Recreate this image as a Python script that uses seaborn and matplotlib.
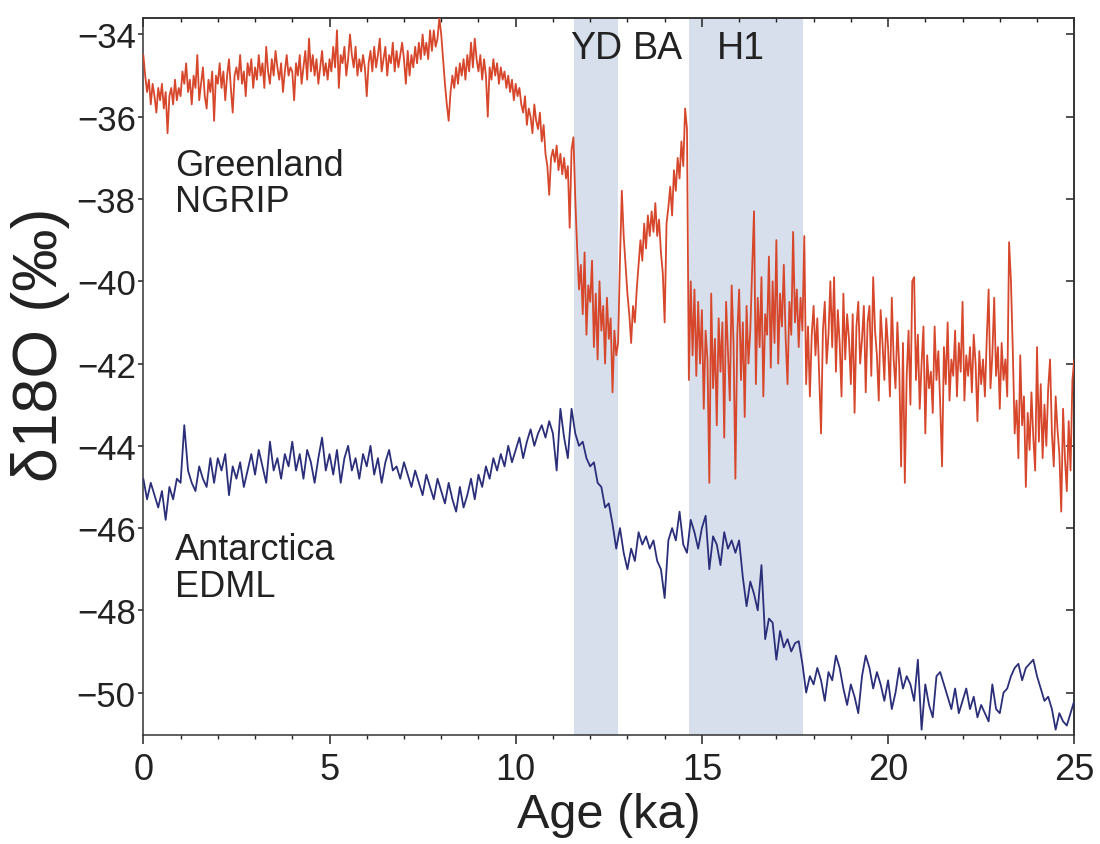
import matplotlib
matplotlib.use("Agg")
import matplotlib.pyplot as plt
from matplotlib.ticker import MultipleLocator, NullFormatter
import pandas as pd
import seaborn as sns

# --- Greenland NGRIP d18O, 50-yr steps (one row per ka, 0-25 ka) ---
NGRIP_STEP = 0.05
ngrip_rows = [
    [-34.5, -35.0, -35.4, -35.1, -35.7, -35.2, -35.5, -35.9, -35.3, -35.6, -35.2, -35.8, -35.4, -36.4, -35.5, -35.3, -35.7, -35.1, -35.6, -35.3],
    [-35.5, -34.9, -35.2, -34.7, -35.4, -35.1, -35.7, -35.0, -35.3, -34.5, -35.6, -35.2, -34.8, -35.5, -35.8, -35.1, -35.4, -34.9, -36.1, -35.0],
    [-35.2, -34.7, -35.3, -34.9, -35.6, -35.0, -34.6, -35.3, -35.9, -35.0, -34.8, -35.1, -34.5, -35.2, -34.9, -35.5, -34.7, -35.0, -34.6, -35.3],
    [-34.8, -35.1, -34.5, -35.0, -34.7, -35.3, -34.3, -34.9, -35.2, -34.6, -35.0, -34.4, -34.8, -35.1, -34.7, -35.4, -34.9, -34.5, -35.0, -34.8],
    [-34.9, -35.6, -34.7, -35.0, -34.5, -35.2, -34.8, -34.4, -35.1, -34.1, -34.9, -34.5, -35.0, -34.6, -35.2, -34.8, -34.4, -35.0, -34.7, -35.1],
    [-34.6, -34.9, -34.3, -34.8, -33.9, -35.3, -34.5, -34.7, -34.3, -35.0, -34.6, -34.0, -34.5, -34.8, -34.3, -35.0, -34.6, -34.9, -34.5, -34.8],
    [-35.5, -34.7, -34.4, -34.9, -34.3, -34.8, -34.5, -34.1, -34.9, -34.6, -34.3, -35.0, -34.5, -34.7, -34.2, -34.9, -34.4, -34.8, -34.5, -34.2],
    [-34.6, -35.2, -34.4, -35.0, -34.5, -34.8, -34.3, -34.7, -34.2, -34.6, -34.0, -34.5, -34.2, -34.6, -33.9, -34.4, -33.9, -34.3, -34.1, -33.6],
    [-34.0, -34.6, -35.2, -35.7, -36.1, -35.4, -35.0, -35.3, -34.8, -35.2, -34.7, -35.0, -34.6, -35.1, -34.5, -34.9, -34.2, -34.8, -34.1, -34.6],
    [-34.9, -34.5, -35.1, -34.6, -35.0, -36.0, -34.8, -35.1, -34.6, -35.0, -34.7, -35.2, -34.8, -35.1, -34.9, -35.3, -35.0, -35.4, -35.1, -35.6],
    [-35.2, -35.5, -35.3, -35.7, -35.9, -35.5, -36.2, -35.8, -36.0, -36.4, -35.7, -36.1, -36.3, -35.9, -36.6, -36.2, -36.9, -37.2, -37.9, -37.0],
    [-36.8, -37.1, -36.7, -37.3, -36.9, -37.4, -37.0, -37.5, -37.2, -38.7, -36.8, -36.5, -38.0, -39.2, -40.2, -39.6, -40.8, -39.3, -41.3, -40.1],
    [-40.5, -39.5, -41.6, -40.3, -41.9, -40.0, -41.2, -40.6, -42.0, -40.4, -41.4, -40.9, -42.7, -41.2, -41.8, -41.5, -39.5, -37.8, -38.9, -39.6],
    [-40.3, -40.8, -41.5, -40.6, -41.0, -40.2, -39.6, -39.0, -39.5, -38.6, -39.2, -38.4, -38.9, -38.3, -38.8, -38.1, -38.9, -38.5, -39.3, -39.8],
    [-41.0, -38.6, -38.2, -37.7, -38.4, -37.3, -37.8, -37.0, -37.5, -36.6, -37.2, -35.8, -36.3, -42.4, -40.0, -41.8, -40.2, -42.3, -40.5, -42.0],
    [-40.7, -43.1, -41.2, -41.9, -44.9, -40.3, -42.6, -41.4, -43.5, -40.9, -42.2, -41.0, -43.8, -40.5, -41.7, -42.9, -40.1, -41.5, -44.8, -41.3],
    [-40.2, -42.4, -41.0, -43.3, -40.6, -42.0, -41.2, -39.7, -38.3, -42.5, -40.4, -41.6, -39.9, -42.8, -40.8, -41.3, -39.4, -42.1, -40.0, -41.5],
    [-39.0, -42.0, -40.3, -41.1, -39.6, -41.4, -42.5, -40.5, -41.3, -38.8, -41.0, -40.2, -41.6, -40.4, -41.2, -38.9, -42.5, -41.1, -42.8, -41.3],
    [-40.6, -41.8, -40.9, -42.3, -43.7, -41.2, -40.5, -42.0, -41.3, -40.0, -41.6, -39.9, -42.2, -40.7, -41.5, -42.8, -40.3, -41.9, -40.8, -41.4],
    [-42.5, -40.8, -43.2, -41.1, -40.5, -42.0, -41.4, -40.6, -42.7, -41.0, -40.6, -42.3, -39.9, -41.2, -41.8, -42.9, -40.7, -41.5, -42.4, -40.9],
    [-41.6, -42.8, -40.4, -41.9, -42.6, -41.0, -42.1, -44.5, -41.5, -44.9, -42.3, -41.2, -43.0, -40.0, -39.9, -42.4, -41.3, -43.1, -42.0, -41.1],
    [-43.7, -41.8, -42.6, -42.2, -43.2, -41.1, -42.4, -41.7, -43.0, -44.5, -41.6, -42.5, -41.0, -42.9, -41.9, -42.3, -41.2, -42.8, -41.5, -42.2],
    [-40.5, -42.9, -41.8, -42.3, -41.6, -42.7, -41.3, -42.0, -43.4, -41.7, -42.5, -41.9, -42.8, -41.4, -40.2, -42.6, -41.8, -40.4, -42.3, -41.6],
    [-43.1, -41.5, -42.4, -41.9, -42.8, -39.05, -40.0, -41.7, -43.7, -42.9, -44.3, -41.8, -43.5, -42.8, -45.0, -43.2, -44.1, -42.7, -43.8, -44.6],
    [-41.6, -43.9, -42.5, -44.3, -43.0, -44.0, -42.6, -41.9, -43.7, -44.5, -42.8, -43.6, -44.2, -45.6, -43.1, -44.3, -45.1, -43.4, -44.6, -42.4],
]
ngrip_last = -41.9

# --- Antarctica EDML d18O, 100-yr steps (one row per ka, 0-25 ka) ---
EDML_STEP = 0.1
edml_rows = [
    [-44.8, -45.3, -44.9, -45.2, -45.5, -45.1, -45.8, -45.0, -45.3, -44.8],
    [-44.9, -43.5, -44.6, -44.9, -45.1, -44.5, -44.8, -45.0, -44.3, -44.9],
    [-44.3, -44.6, -44.2, -45.2, -44.5, -44.8, -44.4, -45.0, -44.6, -44.2],
    [-44.7, -44.1, -44.5, -44.9, -43.9, -44.6, -44.3, -44.8, -44.2, -44.5],
    [-43.9, -44.6, -44.2, -44.8, -44.1, -44.4, -44.9, -44.3, -43.8, -44.6],
    [-44.2, -44.7, -44.1, -44.9, -44.3, -44.0, -44.6, -44.3, -44.8, -44.2],
    [-44.5, -44.0, -44.7, -44.3, -44.9, -44.4, -44.1, -44.6, -44.5, -44.8],
    [-44.4, -44.7, -45.0, -44.6, -44.9, -45.2, -44.7, -45.0, -45.3, -44.8],
    [-45.1, -45.4, -44.9, -45.3, -45.6, -45.0, -45.5, -45.2, -44.8, -45.3],
    [-44.7, -45.0, -44.5, -44.8, -44.3, -44.6, -44.2, -44.5, -44.0, -44.4],
    [-44.1, -43.8, -44.3, -43.9, -43.6, -44.0, -43.7, -43.5, -43.8, -43.4],
    [-43.7, -44.6, -43.1, -43.8, -44.3, -43.1, -43.7, -44.0, -43.9, -44.3],
    [-44.5, -44.4, -44.9, -45.0, -45.5, -45.4, -45.9, -46.5, -46.0, -46.6],
    [-47.0, -46.5, -46.8, -46.1, -46.4, -46.2, -46.5, -46.3, -46.8, -47.0],
    [-47.7, -46.3, -46.0, -46.3, -45.6, -46.4, -46.6, -45.8, -46.1, -46.5],
    [-46.0, -45.7, -47.0, -46.2, -46.4, -46.9, -46.1, -46.5, -46.3, -46.6],
    [-46.3, -47.2, -47.9, -47.3, -47.6, -48.0, -46.9, -48.7, -48.2, -48.3],
    [-49.2, -48.5, -48.9, -48.7, -49.0, -48.8, -48.75, -49.3, -50.0, -49.6],
    [-49.8, -49.4, -49.7, -50.2, -49.5, -49.7, -49.1, -49.4, -49.9, -50.3],
    [-49.8, -50.1, -50.5, -49.6, -49.1, -49.4, -49.9, -49.5, -49.8, -50.2],
    [-49.7, -50.4, -50.0, -49.4, -49.9, -49.6, -49.8, -50.2, -49.2, -50.9],
    [-49.8, -50.3, -50.6, -49.6, -49.5, -49.8, -50.1, -50.4, -49.9, -50.5],
    [-50.2, -49.9, -50.4, -50.1, -50.6, -50.3, -50.5, -50.7, -49.8, -50.4],
    [-50.5, -50.0, -49.9, -49.6, -49.4, -49.3, -49.7, -49.4, -49.3, -49.2],
    [-49.6, -49.9, -50.2, -50.1, -50.4, -50.9, -50.5, -50.7, -50.8, -50.5],
]
edml_last = -50.2

# Climate events: Younger Dryas, Bolling-Allerod, Heinrich 1
event_labels = ["YD", "BA", "H1"]
event_label_age = [12.15, 13.82, 16.05]
shaded_events = [(11.57, 12.74), (14.65, 17.71)]

record_labels = ["Greenland\nNGRIP", "Antarctica\nEDML"]
record_label_pos = [(0.85, -36.75), (0.85, -46.1)]

x_ticks = [0, 5, 10, 15, 20, 25]
y_ticks = [-34, -36, -38, -40, -42, -44, -46, -48, -50]


def flatten(rows, last, step, per_row):
    for r in rows:
        assert len(r) == per_row, len(r)
    vals = [v for r in rows for v in r] + [last]
    ages = [round(i * step, 4) for i in range(len(vals))]
    return pd.DataFrame({"age": ages, "d18O": vals})


ngrip = flatten(ngrip_rows, ngrip_last, NGRIP_STEP, 20)
edml = flatten(edml_rows, edml_last, EDML_STEP, 10)

sns.set_theme(style="ticks")
plt.rcParams["font.family"] = ["Liberation Sans", "DejaVu Sans"]
ink = "#222222"

fig = plt.figure(figsize=(11, 8.45), dpi=100)
ax = fig.add_axes([0.1303, 0.129, 0.8463, 0.8485])

band_color = "#d7deec"
for lo, hi in shaded_events:
    ax.axvspan(lo, hi, color=band_color, lw=0, zorder=0)

sns.lineplot(data=ngrip, x="age", y="d18O", ax=ax, color="#d6472b",
             lw=1.3, estimator=None, sort=False, zorder=3)
sns.lineplot(data=edml, x="age", y="d18O", ax=ax, color="#2b2f7a",
             lw=1.3, estimator=None, sort=False, zorder=3)

ax.set_xlim(0, 25)
ax.set_ylim(-51.03, -33.6)

ax.set_xticks(x_ticks)
ax.xaxis.set_minor_locator(MultipleLocator(1))
ax.set_yticks(y_ticks)
ax.tick_params(axis="x", which="major", direction="out", length=6.5,
               width=1.1, color=ink, pad=6, labelsize=26, labelcolor=ink)
ax.tick_params(axis="x", which="minor", direction="out", length=3.2,
               width=1.0, color=ink)
ax.tick_params(axis="y", which="major", direction="out", length=3.5,
               width=1.1, color=ink, pad=2, labelsize=25, labelcolor=ink)

ax.set_xlabel("Age (ka)", fontsize=35, color=ink, labelpad=3)
ax.set_ylabel("δ18O (‰)", fontsize=45, color=ink)
ax.yaxis.set_label_coords(-0.079, 0.545)

for sp in ax.spines.values():
    sp.set_linewidth(1.1)
    sp.set_color("#333333")

# inward ticks on the top and right frame
top = ax.secondary_xaxis("top")
top.set_xticks(x_ticks)
top.xaxis.set_minor_locator(MultipleLocator(1))
top.xaxis.set_major_formatter(NullFormatter())
top.tick_params(which="major", direction="in", length=6.5, width=1.1, color=ink)
top.tick_params(which="minor", direction="in", length=3.2, width=1.0, color=ink)
top.spines["top"].set_linewidth(1.1)

right = ax.secondary_yaxis("right")
right.set_yticks(y_ticks)
right.yaxis.set_major_formatter(NullFormatter())
right.tick_params(which="major", direction="in", length=6, width=1.1, color=ink)
right.spines["right"].set_linewidth(1.1)

for name, xa in zip(event_labels, event_label_age):
    ax.text(xa, -34.33, name, ha="center", va="center", fontsize=27,
            color=ink, zorder=4)

for txt, (xa, ya) in zip(record_labels, record_label_pos):
    ax.text(xa, ya, txt, ha="left", va="top", fontsize=26, color=ink,
            linespacing=1.05, zorder=4)

fig.savefig("out.png", dpi=100)
